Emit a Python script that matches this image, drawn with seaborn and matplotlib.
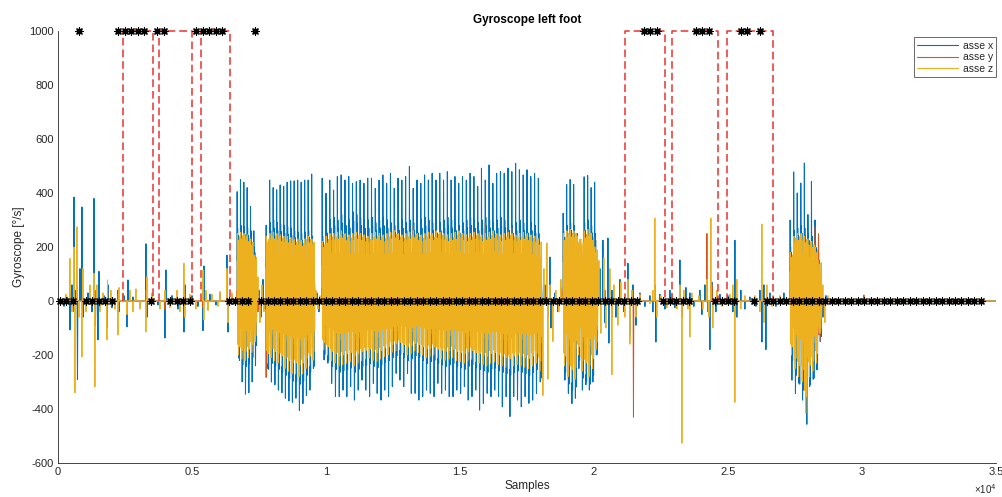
import numpy as np
import pandas as pd
import matplotlib
matplotlib.use("Agg")
import matplotlib.pyplot as plt
import seaborn as sns

# ---------------- data ----------------
x_limits = [0, 35000]
y_limits = [-600, 1000]
x_ticks = [0, 5000, 10000, 15000, 20000, 25000, 30000, 35000]
x_tick_labels = ["0", "0.5", "1", "1.5", "2", "2.5", "3", "3.5"]
y_ticks = [-600, -400, -200, 0, 200, 400, 600, 800, 1000]
series_names = ["asse x", "asse y", "asse z"]

# walking bursts: start/end sample, per-stride peaks
B_start, B_end = 6678, 7425
B_x_top = [405, 450, 440, 420, 350, 260]
B_x_bot = [-211, -300, -345, -340, -300, -240]
B_x_band = [270, 280, 275, 270, 260, 200]
B_z_top = [250, 255, 250, 245, 230, 170]
B_z_bot = [-200, -215, -220, -210, -190, -150]
B_y_pk = [40, 50, 60, 40, 50, 30]

C_start, C_end = 7760, 9589
C_x_top = [281, 448, 420, 412, 430, 425, 440, 445, 445, 448, 440, 448, 448, 470]
C_x_bot = [-250, -300, -310, -330, -340, -360, -370, -375, -360, -405, -380, -350, -330, -250]
C_x_band = [220, 290, 300, 290, 285, 280, 275, 270, 260, 255, 250, 255, 260, 240]
C_z_top = [240, 250, 255, 250, 245, 240, 240, 235, 230, 230, 225, 230, 240, 230]
C_z_bot = [-230, -210, -220, -230, -240, -250, -260, -270, -270, -280, -270, -250, -240, -220]
C_y_pk = [-283, 50, 40, 60, 50, 40, 60, 80, 50, 40, 60, 50, 40, 30]

D_start, D_end = 9850, 18058
D_x_top = [455, 399, 448, 411, 461, 467, 448, 461, 436, 442, 448, 436, 455, 455, 417,
           448, 467, 436, 473, 417, 455, 448, 461, 498, 417, 448, 436, 467, 448, 473,
           448, 473, 448, 479, 448, 461, 436, 461, 448, 473, 461, 424, 492, 448, 504,
           436, 473, 479, 473, 492, 479, 510, 486, 467, 486, 461, 473, 455]
D_x_bot = [-218, -230, -305, -354, -354, -330, -354, -317, -367, -330, -293, -330, -354,
           -305, -342, -367, -330, -354, -317, -268, -293, -317, -268, -342, -342, -367,
           -354, -330, -342, -354, -305, -342, -330, -354, -354, -330, -342, -317, -367,
           -354, -330, -404, -379, -342, -354, -330, -354, -392, -354, -428, -354, -367,
           -392, -354, -379, -367, -342, -300]
D_x_band = [240, 280, 300, 310, 300, 320, 310, 300, 330, 320, 310, 300, 300, 310, 290,
            300, 310, 300, 290, 280, 290, 300, 290, 300, 290, 280, 300, 310, 300, 290,
            280, 290, 300, 310, 300, 290, 280, 290, 300, 310, 300, 290, 300, 310, 300,
            290, 300, 310, 300, 290, 280, 290, 300, 290, 280, 290, 280, 250]
D_z_top = [220, 240, 250, 250, 255, 260, 250, 245, 250, 255, 250, 245, 240, 250, 255,
           250, 245, 250, 255, 260, 250, 245, 250, 255, 260, 250, 245, 250, 255, 250,
           260, 255, 250, 245, 250, 255, 260, 250, 245, 250, 255, 250, 245, 250, 255,
           260, 250, 245, 250, 255, 250, 245, 250, 255, 250, 245, 240, 230]
D_z_bot = [-180, -200, -220, -230, -240, -235, -230, -225, -240, -230, -220, -215, -210,
           -220, -225, -215, -205, -200, -190, -185, -180, -190, -200, -195, -185, -190,
           -200, -210, -205, -200, -210, -215, -220, -215, -210, -220, -225, -230, -220,
           -215, -225, -230, -235, -240, -230, -225, -235, -240, -245, -250, -240, -235,
           -240, -245, -250, -240, -230, -260]
D_y_pk = [50, 60, 40, 50, 60, 70, 50, 40, 60, 50, 70, 60, 50, 40, 60, 50, 70, 60, 50, 40,
          60, 50, 70, 60, 280, 50, 40, 60, 50, 70, 60, 50, 40, 60, 50, 70, 60, 50, 40, 60,
          50, 70, 60, 290, 50, 40, 60, 50, 70, 60, 270, 50, 40, 60, 50, 70, 60, 50]

E_start, E_end = 18842, 20147
E_x_top = [325, 432, 450, 432, 250, 200, 460, 465, 420, 440]
E_x_bot = [-293, -342, -380, -360, -250, -330, -310, -330, -300, -200]
E_x_band = [260, 280, 290, 280, 220, 200, 290, 300, 280, 250]
E_z_top = [250, 260, 265, 260, 240, 230, 260, 265, 250, 200]
E_z_bot = [-240, -280, -300, -290, -200, -260, -270, -280, -250, -180]
E_y_pk = [40, 60, 50, 70, 40, 50, 60, 80, 50, 40]

I_start, I_end = 27311, 28505
I_x_top = [300, 478, 400, 437, 511, 320, 443, 300, 180]
I_x_bot = [-293, -342, -305, -367, -330, -317, -290, -255, -150]
I_x_band = [200, 260, 270, 280, 270, 250, 240, 220, 150]
I_z_top = [180, 240, 250, 250, 240, 230, 220, 200, 150]
I_z_bot = [-200, -250, -280, -300, -415, -280, -260, -230, -120]
I_y_pk = [40, 50, 60, 60, 80, 120, 150, 275, 250]

# isolated spikes (sample, value)
x_evt_pos = [224, 336, 448, 522, 597, 672, 728, 821, 895, 933, 1119, 1269, 1343, 1399, 1492,
             1530, 1716, 1828, 1866, 2015, 2239, 2276, 2462, 2574, 2612, 2798, 3059, 3283,
             3321, 3507, 3731, 3992, 4029, 4253, 4477, 4701, 4738, 5000, 5223, 5410, 5447,
             5671, 5895, 6044, 6305, 6343, 6492, 7499, 7574, 7649, 7723, 9663, 9738,
             18170, 18357, 18394, 18543, 18655, 18767, 20222, 20334, 20409, 20521, 20558,
             20670, 20819, 20969, 21118, 21267, 21342, 21454, 21566, 21715, 21901, 22088,
             22199, 22274, 22311, 22461, 22648, 22834, 23020, 23207, 23282, 23431, 23580,
             23729, 23953, 24028, 24140, 24326, 24401, 24550, 24700, 24998, 25184, 25259,
             25333, 25482, 25632, 25819, 26043, 26192, 26267, 26341, 26416, 26565, 26789,
             27087, 28542, 28654, 28804]
x_evt_val = [-20, 15, -107, 60, 385, 40, -290, 120, 348, -60, 30, -40, 380, -90, -144,
             110, 20, -100, 60, -25, 40, -40, 20, -96, 78, 15, -20, 212,
             -60, 20, -15, -137, 115, 20, -30, -115, 60, 20, -20, -110, 130,
             25, -15, 30, 170, -115, 20, 40, -60, 80, -30, 30, -40,
             60, 163, -100, 30, -40, 50, 120, 225, -80, 233, -156,
             40, -60, 80, -40, 140, -130, 60, -90, 30, -20, 20,
             -40, 60, -152, 25, -30, 40, -25, 152, -60, 50, 30,
             -20, 40, -50, 60, -180, 70, -40, 25, 20, -40, 225,
             -60, 40, -30, 15, -20, 40, -152, 60, -180, 30, -20,
             30, -60, 20, -10]

z_evt_pos = [298, 448, 522, 597, 634, 709, 784, 895, 933, 1045, 1194, 1343, 1380, 1455, 1567,
             1679, 1828, 1847, 1977, 2127, 2239, 2276, 2425, 2574, 2686, 2798, 2910, 3059,
             3283, 3321, 3507, 3806, 3992, 4179, 4440, 4552, 4701, 4738, 4925, 5149, 5410,
             5447, 5522, 5597, 5746, 5970, 6044, 6305, 6343, 6492, 7462, 7537, 7611, 7686,
             9626, 9701, 9775, 18095, 18133, 18245, 18282, 18357, 18468, 18580, 18692, 18767,
             20185, 20259, 20371, 20446, 20595, 20670, 20745, 20894, 21006, 21155, 21267,
             21342, 21417, 21566, 21715, 22088, 22199, 22274, 22349, 22498, 22722, 22909,
             23095, 23207, 23282, 23356, 23506, 23580, 23655, 23916, 24065, 24214, 24289,
             24364, 24438, 24588, 24774, 25072, 25184, 25259, 25333, 25482, 25632, 26005,
             26192, 26267, 26341, 26453, 26640, 26938, 28542, 28617, 28729]
z_evt_val = [25, 158, -40, 200, -340, 275, -60, -207, 120, -40, 60, 103, -318, 60, -40,
             30, -144, 78, 40, -30, -126, 50, 30, -50, 40, -40, 45, -30,
             -115, 90, 30, -30, 40, -25, 40, -40, 140, -60, 25, -30, 115,
             -70, 40, -35, 25, -20, 35, 120, -80, 30, 90, -80, 60, -40,
             40, -30, 20, -350, 120, 215, -290, 60, -150, 40, -40, 80,
             150, -120, 160, -100, 120, -273, 60, -90, 70, -60, 80,
             -160, 40, -60, 25, -10, 40, 307, -60, 20, -25, 30,
             -30, 60, -527, 40, -30, -133, 30, 20, -30, 80, -60,
             307, -100, 40, -20, 25, 60, -375, 80, -30, 20, 20,
             -40, 285, -80, 60, -20, 20, 60, -80, 20]

y_evt_pos = [448, 597, 709, 895, 1380, 1828, 2239, 3283, 3992, 4701, 5410, 6305, 7462,
             18282, 20409, 20670, 21473, 22274, 23282, 24214, 24252, 24401, 25259, 26267,
             30072, 30147]
y_evt_val = [30, -40, 60, -50, 40, -30, 25, 40, -30, 30, -25, 40, -40,
             -60, 40, -60, -430, 50, -60, 250, -40, 60, -50, 40,
             22, -8]

# detection markers (every star_step samples) and highlighted windows
star_first, star_step, star_count = 75, 242, 143
star_high_idx = [3, 9, 10, 11, 12, 13, 15, 16, 21, 22, 23, 24, 25, 30,
                 90, 91, 92, 98, 99, 100, 105, 106, 108]
star_low, star_high = 0, 1000
red_starts = [2425, 3768, 5335, 21155, 22909, 24960]
red_ends = [3545, 5000, 6417, 22648, 24625, 26677]
red_level = 1000

# ---------------- stride shapes (styling of the waveform) ----------------
BLUE_OFFS = [0.00, 0.06, 0.13, 0.20, 0.28, 0.36, 0.46, 0.56, 0.66, 0.76, 0.88]
YEL_OFFS = [0.02, 0.12, 0.23, 0.34, 0.45, 0.56, 0.67, 0.78, 0.90]
ORA_OFFS = [0.05, 0.20, 0.35, 0.50, 0.65, 0.80]

series_pts = {n: ([0.0, 35000.0], [0.0, 0.0]) for n in series_names}


def add(name, xs, vs):
    series_pts[name][0].extend(xs)
    series_pts[name][1].extend(vs)


def add_walk(start, end, tops, bots, bands, ztops, zbots, ypks):
    n = len(tops)
    L = (end - start) / n
    for name in series_names:
        add(name, [start - 5, end + 5], [0, 0])
    for i in range(n):
        t0 = start + i * L
        bv = [0, tops[i], 0.55 * bands[i], bands[i], 0.5 * bands[i], 0.9 * bands[i],
              0.3 * zbots[i], bots[i], 0.6 * zbots[i], 1.1 * zbots[i], 0.3 * bands[i]]
        add("asse x", [t0 + o * L for o in BLUE_OFFS], bv)
        zt, zb = ztops[i], zbots[i]
        zv = [0.1 * zt, zt, 0.8 * zb, 0.9 * zt, zb, 0.7 * zt, 0.85 * zb, 0.95 * zt, 0.5 * zb]
        add("asse z", [t0 + o * L for o in YEL_OFFS], zv)
        p = ypks[i]
        yv = [p, -0.5 * p, 0.4 * p, -0.6 * p, 0.3 * p, -0.3 * p]
        add("asse y", [t0 + o * L for o in ORA_OFFS], yv)


def add_events(name, pos, val, hw=14):
    for p, v in zip(pos, val):
        add(name, [p - hw, p, p + hw], [0, v, 0])


add_walk(B_start, B_end, B_x_top, B_x_bot, B_x_band, B_z_top, B_z_bot, B_y_pk)
add_walk(C_start, C_end, C_x_top, C_x_bot, C_x_band, C_z_top, C_z_bot, C_y_pk)
add_walk(D_start, D_end, D_x_top, D_x_bot, D_x_band, D_z_top, D_z_bot, D_y_pk)
add_walk(E_start, E_end, E_x_top, E_x_bot, E_x_band, E_z_top, E_z_bot, E_y_pk)
add_walk(I_start, I_end, I_x_top, I_x_bot, I_x_band, I_z_top, I_z_bot, I_y_pk)
add_events("asse x", x_evt_pos, x_evt_val)
add_events("asse z", z_evt_pos, z_evt_val)
add_events("asse y", y_evt_pos, y_evt_val)

frames = {}
for name in series_names:
    xs = np.asarray(series_pts[name][0], float)
    vs = np.asarray(series_pts[name][1], float)
    order = np.argsort(xs, kind="stable")
    frames[name] = pd.DataFrame({"sample": xs[order], "value": vs[order]})

star_x = [star_first + k * star_step for k in range(star_count)]
star_y = [star_high if k in star_high_idx else star_low for k in range(star_count)]
stars = pd.DataFrame({"sample": star_x, "value": star_y})

red_rows = []
for j, (a, b) in enumerate(zip(red_starts, red_ends)):
    for xx, yy in [(a, 0), (a, red_level), (b, red_level), (b, 0)]:
        red_rows.append({"sample": xx, "value": yy, "win": j})
red = pd.DataFrame(red_rows)

# ---------------- plotting ----------------
sns.set_theme(style="white")
plt.rcParams["font.family"] = ["Liberation Sans", "DejaVu Sans"]
plt.rcParams["axes.unicode_minus"] = False
TXT = "#262626"

fig = plt.figure(figsize=(10.03, 4.97), dpi=100)
ax = fig.add_axes([0.0578, 0.0684, 0.9352, 0.8692])

colors = {"asse x": "#0072BD", "asse y": "#D95319", "asse z": "#EDB120"}
widths = {"asse x": 0.75, "asse y": 0.7, "asse z": 0.7}
for i, name in enumerate(series_names):
    sns.lineplot(data=frames[name], x="sample", y="value", color=colors[name],
                 linewidth=widths[name], estimator=None, sort=False, ax=ax, label=name,
                 zorder=2 + i)
n_sig = len(ax.lines)

sns.lineplot(data=red, x="sample", y="value", units="win", estimator=None, sort=False,
             color="#E8312F", linewidth=1.1, ax=ax, zorder=6, legend=False)
for ln in ax.lines[n_sig:]:
    ln.set_linestyle((0, (5, 2.6)))
    ln.set_clip_on(False)

sns.scatterplot(data=stars, x="sample", y="value", marker=(8, 2, 0), s=26,
                color="black", linewidth=0.9, ax=ax, zorder=7, legend=False,
                clip_on=False)

ax.set_xlim(*x_limits)
ax.set_ylim(*y_limits)
ax.set_xticks(x_ticks)
ax.set_xticklabels(x_tick_labels)
ax.set_yticks(y_ticks)
ax.tick_params(direction="in", length=4, width=0.6, colors=TXT, labelsize=8,
               pad=3, top=False, right=False)
for s in ["top", "right"]:
    ax.spines[s].set_visible(False)
for s in ["left", "bottom"]:
    ax.spines[s].set_color(TXT)
    ax.spines[s].set_linewidth(0.6)

ax.set_title("Gyroscope left foot", fontsize=8.5, fontweight="bold", color="black", pad=6)
ax.set_xlabel("Samples", fontsize=8.5, color=TXT, labelpad=2)
ax.set_ylabel("Gyroscope [°/s]", fontsize=8.5, color=TXT, labelpad=3)
fig.text(0.982, 0.002, "×10$^{4}$", fontsize=7, color=TXT, ha="center", va="bottom")

handles, labels = ax.get_legend_handles_labels()
leg = ax.legend(handles[:3], labels[:3], loc="upper right", bbox_to_anchor=(1.0, 0.985),
                fontsize=7.5, frameon=True, fancybox=False, edgecolor=TXT,
                handlelength=4.0, handletextpad=0.4, borderpad=0.3,
                labelspacing=0.15, borderaxespad=0)
leg.get_frame().set_linewidth(0.6)
for t in leg.get_texts():
    t.set_color(TXT)
for h in leg.get_lines():
    h.set_linewidth(0.8)

fig.savefig("out.png", dpi=100, facecolor="white")
